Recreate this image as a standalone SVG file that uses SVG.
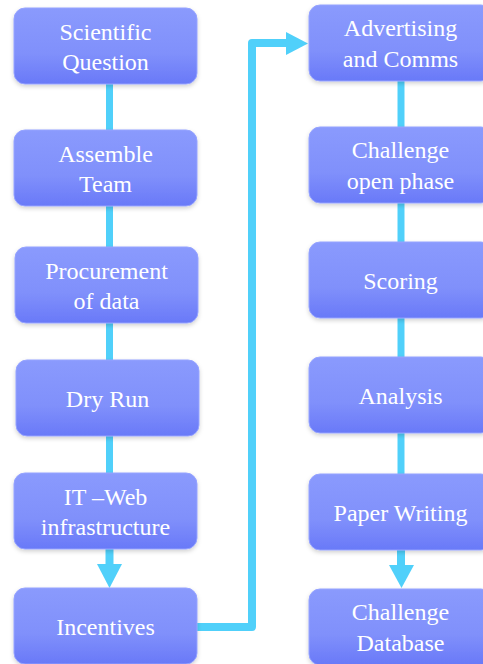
<svg xmlns="http://www.w3.org/2000/svg" width="483" height="664" viewBox="0 0 483 664">
<defs>
<linearGradient id="g" x1="0" y1="0" x2="0" y2="1">
<stop offset="0" stop-color="#8a9afd"/>
<stop offset="0.6" stop-color="#8090fb"/>
<stop offset="1" stop-color="#6979f8"/>
</linearGradient>
<filter id="sh" x="-10%" y="-10%" width="120%" height="130%">
<feDropShadow dx="0" dy="2" stdDeviation="2" flood-color="#000" flood-opacity="0.18"/>
</filter>
</defs>
<style>
.box{fill:url(#g);stroke:#95a3ff;stroke-width:1;filter:url(#sh)}
.t{font-size:24px;fill:#ffffff;text-anchor:middle}
.c{stroke:#50d0fa;fill:none}
.ah{fill:#50d0fa}
</style>
<rect width="483" height="664" fill="#ffffff"/>
<g id="connectors">
<line class="c" x1="109.5" y1="84" x2="109.5" y2="130" stroke-width="7"/>
<line class="c" x1="109.5" y1="206" x2="109.5" y2="247" stroke-width="7"/>
<line class="c" x1="109.5" y1="323" x2="109.5" y2="360" stroke-width="7"/>
<line class="c" x1="109.5" y1="436" x2="109.5" y2="473" stroke-width="7"/>
<line class="c" x1="109.5" y1="549" x2="109.5" y2="565" stroke-width="8"/>
<path class="ah" d="M97,564 L122,564 L109.5,588 Z"/>
<path class="c" d="M197,627 L252,627 L252,43 L287,43" stroke-width="8" stroke-linejoin="round"/>
<path class="ah" d="M286,32 L308,43.5 L286,55 Z"/>
<line class="c" x1="401" y1="81" x2="401" y2="127" stroke-width="7"/>
<line class="c" x1="401" y1="203" x2="401" y2="242" stroke-width="7"/>
<line class="c" x1="401" y1="318" x2="401" y2="357" stroke-width="7"/>
<line class="c" x1="401" y1="433" x2="401" y2="474" stroke-width="7"/>
<line class="c" x1="401" y1="550" x2="401" y2="566" stroke-width="8"/>
<path class="ah" d="M389,565 L414,565 L401.5,588 Z"/>
</g>
<g id="nodes" font-family="Liberation Serif, Tinos, Times New Roman, DejaVu Serif, serif">
<g id="n1"><rect class="box" x="14" y="8" width="183" height="76" rx="11"/><text class="t" x="105.5" y="40">Scientific</text><text class="t" x="105.5" y="70">Question</text></g>
<g id="n2"><rect class="box" x="14" y="130" width="183" height="76" rx="11"/><text class="t" x="105.5" y="162">Assemble</text><text class="t" x="105.5" y="192">Team</text></g>
<g id="n3"><rect class="box" x="15" y="247" width="183" height="76" rx="11"/><text class="t" x="106.5" y="279">Procurement</text><text class="t" x="106.5" y="309">of data</text></g>
<g id="n4"><rect class="box" x="16" y="360" width="183" height="76" rx="11"/><text class="t" x="107.5" y="407">Dry Run</text></g>
<g id="n5"><rect class="box" x="14" y="473" width="183" height="76" rx="11"/><text class="t" x="105.5" y="505">IT –Web</text><text class="t" x="105.5" y="535">infrastructure</text></g>
<g id="n6"><rect class="box" x="14" y="588" width="183" height="76" rx="11"/><text class="t" x="105.5" y="635">Incentives</text></g>
<g id="n7"><rect class="box" x="309" y="5" width="183" height="76" rx="11"/><text class="t" x="400.5" y="36">Advertising</text><text class="t" x="400.5" y="67">and Comms</text></g>
<g id="n8"><rect class="box" x="309" y="127" width="183" height="76" rx="11"/><text class="t" x="400.5" y="158">Challenge</text><text class="t" x="400.5" y="189">open phase</text></g>
<g id="n9"><rect class="box" x="309" y="242" width="183" height="76" rx="11"/><text class="t" x="400.5" y="289">Scoring</text></g>
<g id="n10"><rect class="box" x="309" y="357" width="183" height="76" rx="11"/><text class="t" x="400.5" y="404">Analysis</text></g>
<g id="n11"><rect class="box" x="309" y="474" width="183" height="76" rx="11"/><text class="t" x="400.5" y="521">Paper Writing</text></g>
<g id="n12"><rect class="box" x="309" y="589" width="183" height="76" rx="11"/><text class="t" x="400.5" y="620">Challenge</text><text class="t" x="400.5" y="651">Database</text></g>
</g>
</svg>
